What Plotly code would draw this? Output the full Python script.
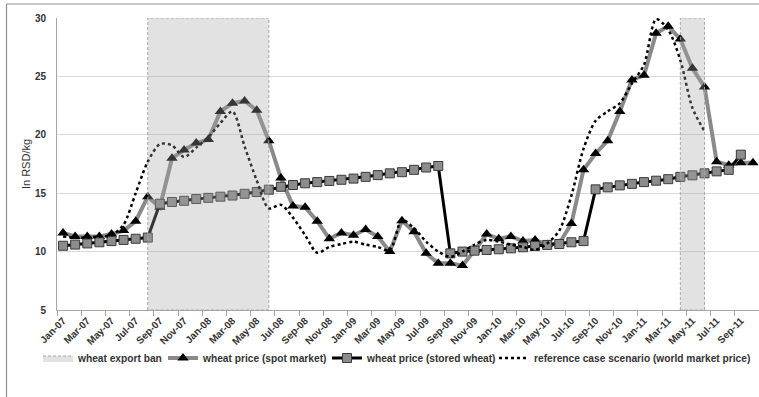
import plotly.graph_objects as go

# ---------------- data ----------------
months = ["Jan-07","Feb-07","Mar-07","Apr-07","May-07","Jun-07","Jul-07","Aug-07","Sep-07","Oct-07","Nov-07","Dec-07",
          "Jan-08","Feb-08","Mar-08","Apr-08","May-08","Jun-08","Jul-08","Aug-08","Sep-08","Oct-08","Nov-08","Dec-08",
          "Jan-09","Feb-09","Mar-09","Apr-09","May-09","Jun-09","Jul-09","Aug-09","Sep-09","Oct-09","Nov-09","Dec-09",
          "Jan-10","Feb-10","Mar-10","Apr-10","May-10","Jun-10","Jul-10","Aug-10","Sep-10","Oct-10","Nov-10","Dec-10",
          "Jan-11","Feb-11","Mar-11","Apr-11","May-11","Jun-11","Jul-11","Aug-11","Sep-11","Oct-11"]

tick_labels = ["Jan-07","Mar-07","May-07","Jul-07","Sep-07","Nov-07","Jan-08","Mar-08","May-08","Jul-08",
               "Sep-08","Nov-08","Jan-09","Mar-09","May-09","Jul-09","Sep-09","Nov-09","Jan-10","Mar-10",
               "May-10","Jul-10","Sep-10","Nov-10","Jan-11","Mar-11","May-11","Jul-11","Sep-11"]

spot_price = [11.6, 11.3, 11.3, 11.3, 11.5, 11.8, 12.6, 14.7, 13.8, 18.0, 18.7, 19.3,
              19.6, 22.0, 22.7, 22.9, 22.1, 19.5, 16.3, 13.9, 13.8, 12.6, 11.1, 11.6,
              11.4, 11.9, 11.3, 10.0, 12.65, 11.7, 9.85, 9.0, 9.0, 8.8, 10.1, 11.5,
              11.1, 11.3, 10.9, 11.0, 10.6, 10.7, 12.4, 17.0, 18.4, 19.5, 22.0, 24.7,
              25.1, 28.7, 29.3, 28.2, 25.7, 24.1, 17.7, 17.4, 17.6, 17.6]

stored_price = [10.5, 10.6, 10.7, 10.8, 10.9, 11.0, 11.1, 11.2,
                14.1, 14.25, 14.35, 14.5, 14.6, 14.7, 14.8, 14.95, 15.1, 15.3,
                15.55, 15.7, 15.85, 15.95, 16.05, 16.15, 16.25, 16.4, 16.55, 16.7, 16.8, 17.0, 17.2, 17.33,
                9.85, 10.0, 10.08, 10.14, 10.2, 10.28, 10.37, 10.48, 10.57, 10.65, 10.8, 10.9,
                15.33, 15.5, 15.67, 15.8, 15.95, 16.07, 16.2, 16.4, 16.53, 16.7, 16.87, 17.0, 18.3]

reference_price = [11.3, 11.2, 11.2, 11.3, 11.4, 12.3, 15.0, 17.7, 19.2, 19.1, 18.1, 18.9,
                   19.8, 21.0, 22.0, 19.0, 16.1, 13.7, 14.0, 12.9, 11.4, 9.9, 10.4, 10.65,
                   10.85, 10.6, 10.4, 10.1, 12.7, 12.0, 10.85, 10.0, 9.55, 10.0, 10.6, 11.0,
                   10.85, 10.6, 10.4, 10.15, 10.7, 11.8, 14.8, 18.8, 21.2, 22.0, 22.7, 24.4,
                   26.0, 29.9, 29.0, 26.4, 22.3, 20.3]

ban_start = ["Aug-07", "Apr-11"]
ban_end = ["Jun-08", "Jun-11"]

y_min, y_max = 5, 30

# ---------------- figure ----------------
FONT = "Liberation Sans, Arial, sans-serif"
W, H = 759, 397
L, R, T, B = 57, 0, 18, 87

pw = W - L - R
ph = H - T - B
def px_x(p):
    return (p - L) / pw
def px_y(p):
    return (H - B - p) / ph

fig = go.Figure()

fig.add_trace(go.Scatter(
    x=list(range(len(spot_price))), y=spot_price, name="wheat price (spot market)",
    mode="lines+markers", line=dict(color="#8a8a8a", width=4),
    marker=dict(symbol="triangle-up", size=10, color="#000000"), legend="legend2"))

fig.add_trace(go.Scatter(
    x=list(range(len(stored_price))), y=stored_price, name="wheat price (stored wheat)",
    mode="lines+markers", line=dict(color="#000000", width=3),
    marker=dict(symbol="square", size=9, color="#8c8c8c", line=dict(color="#3a3a3a", width=1)),
    legend="legend3"))

fig.add_trace(go.Scatter(
    x=list(range(len(reference_price))), y=reference_price,
    name="reference case scenario (world market price)",
    mode="lines", line=dict(color="#000000", width=2.5, dash="dot", shape="spline", smoothing=0.8),
    legend="legend4"))

bx, by = [], []
for s, e in zip(ban_start, ban_end):
    i0, i1 = months.index(s), months.index(e)
    bx += [i0, i0, i1, i1, i0, None]
    by += [y_min, y_max, y_max, y_min, y_min, None]
fig.add_trace(go.Scatter(
    x=bx, y=by, name="wheat export ban", mode="lines", fill="toself",
    fillcolor="rgba(165,165,165,0.32)", line=dict(color="#a8a8a8", width=1, dash="3px,2px"),
    legend="legend", hoverinfo="skip"))

# outer chart frame (top and left edges visible)
fig.add_shape(type="line", xref="paper", yref="paper", x0=px_x(6.5), x1=px_x(770),
              y0=px_y(4), y1=px_y(4), line=dict(color="#8f8f8f", width=1.2))
fig.add_shape(type="line", xref="paper", yref="paper", x0=px_x(6.5), x1=px_x(6.5),
              y0=px_y(4), y1=px_y(410), line=dict(color="#8f8f8f", width=1.2))

leg_font = dict(family=FONT, size=10.2, color="#333333", weight="bold")
def leg(xpx):
    return dict(orientation="h", x=px_x(xpx), xanchor="left", y=px_y(358), yanchor="middle",
                font=leg_font, itemwidth=30, bgcolor="rgba(0,0,0,0)")

fig.update_layout(
    width=W, height=H, margin=dict(l=L, r=R, t=T, b=B, autoexpand=False),
    paper_bgcolor="white", plot_bgcolor="white",
    font=dict(family=FONT, size=10, color="#333333"),
    showlegend=True,
    legend=leg(38), legend2=leg(163), legend3=leg(327), legend4=leg(494),
)

fig.update_xaxes(
    range=[-0.5, len(months) - 0.5],
    tickvals=[months.index(t) for t in tick_labels], ticktext=tick_labels,
    tickangle=-45, ticks="", showgrid=False,
    tickfont=dict(family=FONT, size=10, color="#333333", weight="bold"),
    showline=True, linecolor="#a6a6a6", linewidth=1,
    minor=dict(tick0=-0.5, dtick=2, ticks="outside", ticklen=5, tickcolor="#a6a6a6", showgrid=False),
    zeroline=False,
)
fig.update_yaxes(
    range=[y_min, y_max], dtick=5, showgrid=True, gridcolor="#d9d9d9", gridwidth=1,
    tickfont=dict(family=FONT, size=10, color="#333333", weight="bold"),
    showline=True, linecolor="#a6a6a6", linewidth=1, ticks="", ticklabelstandoff=8,
    title=dict(text="In RSD/kg", font=dict(family=FONT, size=11, color="#333333"), standoff=2),
    zeroline=False,
)

fig.write_html("out.html")
